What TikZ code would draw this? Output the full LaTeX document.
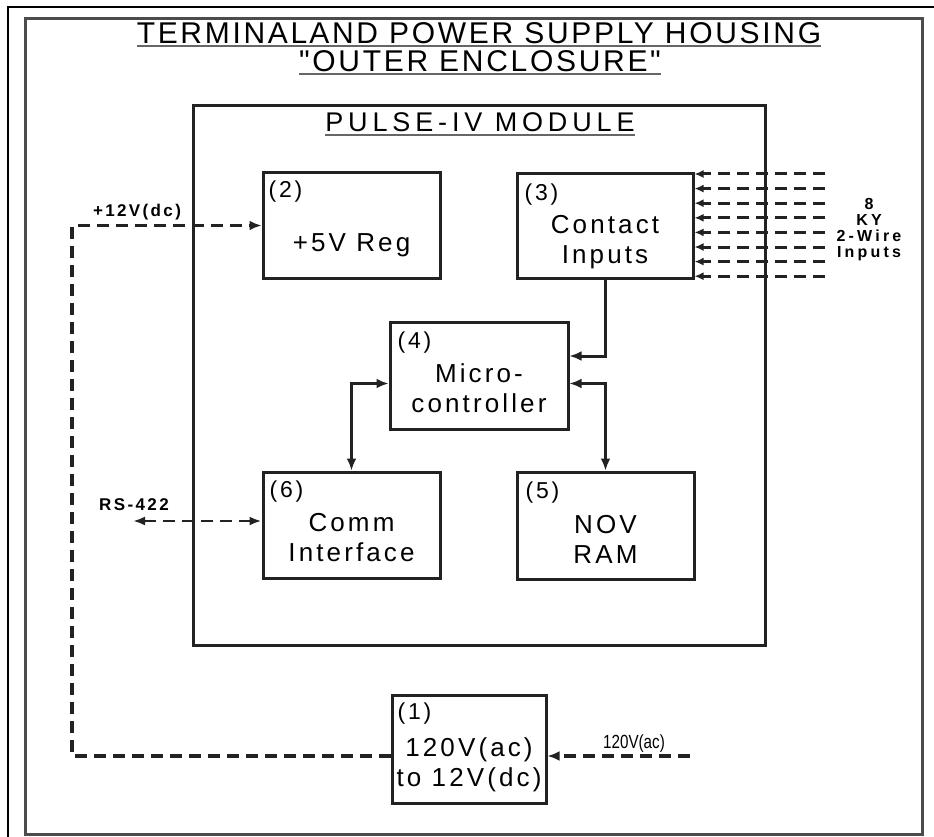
\documentclass[tikz,border=0pt]{standalone}
\usepackage{fontspec}
\setmainfont{Liberation Sans}
\newfontfamily\spaced{Liberation Sans}[LetterSpace=12]
\newfontfamily\modfont{Liberation Sans}[LetterSpace=18]
\newfontfamily\titlefont{Liberation Sans}[LetterSpace=9]
\newfontfamily\tagfont{Liberation Sans}[LetterSpace=14]
\newfontfamily\kyfont{Liberation Sans}[LetterSpace=20]
\newfontfamily\narrowfont{Liberation Sans}[FakeStretch=0.8]
\usetikzlibrary{arrows.meta, positioning, calc}
\definecolor{ink}{RGB}{34,34,34}

\begin{document}
\begin{tikzpicture}[
        x=1pt, y=-1pt,
        box/.style={rectangle, draw=ink, line width=3pt, inner sep=0pt, minimum width=177pt, minimum height=106pt},
        num/.style={anchor=north west, inner sep=0pt, font=\spaced\fontsize{23}{24}\selectfont},
        txt/.style={align=center, inner sep=0pt, font=\spaced\fontsize{26}{30}\selectfont},
        title/.style={inner sep=0pt, font=\titlefont\fontsize{30}{33}\selectfont},
        tag/.style={inner sep=0pt, font=\tagfont\bfseries\fontsize{17}{18}\selectfont},
        uline/.style={line width=2pt, black!60},
        wire/.style={line width=3pt, ink},
        arr/.style={wire, -{Latex[length=12pt,width=10pt]}},
        biarr/.style={wire, {Latex[length=12pt,width=10pt]}-{Latex[length=12pt,width=10pt]}},
        dwire/.style={line width=3.5pt, ink, dash pattern=on 12pt off 7pt}
    ]
        \useasboundingbox (0,0) rectangle (934,837);
        \draw[line width=1.5pt] (8,837) -- (8,7) -- (934,7);

        % outer enclosure
        \node[box, draw=black!70, minimum width=897pt, minimum height=815pt] (encl) at (473.5,426.5) {};
        \node[title] (ttlA) at (479,33) {TERMINAL\hspace{2pt}AND POWER SUPPLY HOUSING};
        \node[title] (ttlB) at (480,61.5) {"OUTER ENCLOSURE"};
        \draw[uline] ([yshift=-2pt]ttlA.south west) -- ([yshift=-2pt]ttlA.south east);
        \draw[uline] ([yshift=-2pt]ttlB.south west) -- ([yshift=-2pt]ttlB.south east);

        % module
        \node[box, minimum width=572pt, minimum height=539pt] (pulse) at (479,375.5) {};
        \node[title, font=\modfont\fontsize{27}{30}\selectfont] (ttlC) at (480,122.5) {PULSE-IV MODULE};
        \draw[uline] ([yshift=-3pt]ttlC.south west) -- ([yshift=-3pt]ttlC.south east);

        % blocks
        \node[box, minimum height=105pt] (reg) at (351.5,225.5) {};
        \node[num] at ($(reg.north west)+(7,9)$) {(2)};
        \node[txt] at ($(reg)+(0,20)$) {+5V Reg};

        \node[box, minimum width=176pt, minimum height=104pt] (cin) at (605,226) {};
        \node[num] at ($(cin.north west)+(9,11)$) {(3)};
        \node[txt] at ($(cin)+(0,16)$) {Contact\\Inputs};

        \node[box, minimum width=178pt, minimum height=107pt] (mcu) at (479,375.5) {};
        \node[num] at ($(mcu.north west)+(9,11)$) {(4)};
        \node[txt] at ($(mcu)+(0,13)$) {Micro-\\controller};

        \node[box] (comm) at (351.5,525) {};
        \node[num] at ($(comm.north west)+(8,10)$) {(6)};
        \node[txt] at ($(comm)+(0,13)$) {Comm\\Interface};

        \node[box, minimum height=107pt] (ram) at (605.5,525.5) {};
        \node[num] at ($(ram.north west)+(10,11)$) {(5)};
        \node[txt] at ($(ram)+(0,14)$) {NOV\\RAM};

        \node[box, minimum width=154pt, minimum height=108pt] (psu) at (469,749) {};
        \node[num] at ($(psu.north west)+(7,9)$) {(1)};
        \node[txt] at ($(psu)+(0,16)$) {120V(ac)\\to 12V(dc)};

        % internal links
        \draw[arr] (cin.south) |- ([yshift=19.5pt]mcu.east);
        \draw[biarr] ([yshift=-8pt]mcu.east) -| (ram.north);
        \draw[biarr] ([yshift=-8pt]mcu.west) -| (comm.north);

        % supply and field wiring
        \coordinate (dcTop) at (72,225.5);
        \coordinate (dcBot) at (72,756);
        \draw[dwire, -{Latex[length=12pt,width=10pt]}] (psu.west |- dcBot) -- (dcBot) -- (dcTop) -- (reg.west);
        \node[tag] (dcLbl) at (137,212) {+12V(dc)};

        \coordinate (acIn) at (690,756);
        \draw[dwire, -{Latex[length=12pt,width=10pt]}] (acIn) -- (psu.east |- acIn);
        \node[tag, font=\narrowfont\fontsize{19}{19}\selectfont] (acLbl) at (634,744) {120V(ac)};

        \coordinate (rsEnd) at (133,521);
        \draw[dwire, line width=2.5pt, {Latex[length=12pt,width=9pt]}-{Latex[length=12pt,width=9pt]}] (rsEnd) -- (comm.west |- rsEnd);
        \node[tag] (rsLbl) at (134,505) {RS-422};

        \foreach \k in {0,...,7}{
            \coordinate (ky\k) at (825,{174+14.6*\k});
            \draw[dwire, line width=3pt, -{Latex[length=9pt,width=8pt]}] (ky\k) -- (cin.east |- ky\k);
        }
        \node[tag, align=center, font=\kyfont\bfseries\fontsize{16}{16}\selectfont] (kyLbl) at (869,230) {8\\KY\\2-Wire\\Inputs};

    \end{tikzpicture}
\end{document}
